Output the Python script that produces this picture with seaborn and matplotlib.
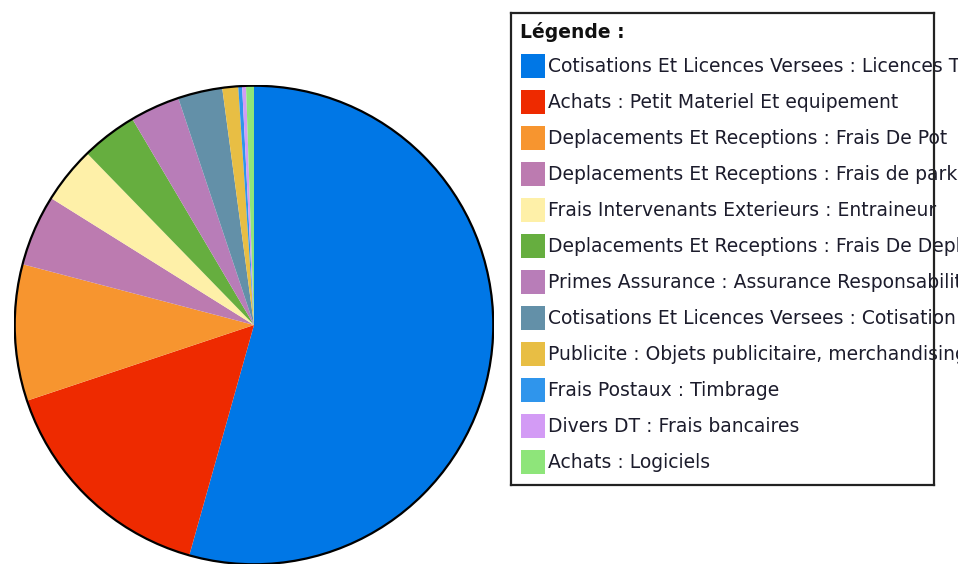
import numpy as np
import matplotlib
matplotlib.use('Agg')
import matplotlib.pyplot as plt
import seaborn as sns
from matplotlib.patches import Rectangle, Circle

# Expense categories (legend order = clockwise slice order from the top)
categories = [
    'Cotisations Et Licences Versees : Licences Tennis',
    'Achats : Petit Materiel Et equipement',
    'Deplacements Et Receptions : Frais De Pot',
    'Deplacements Et Receptions : Frais de parking',
    'Frais Intervenants Exterieurs : Entraineur',
    'Deplacements Et Receptions : Frais De Deplacement',
    'Primes Assurance : Assurance Responsabilite Civile',
    'Cotisations Et Licences Versees : Cotisation Ligue',
    'Publicite : Objets publicitaire, merchandising',
    'Frais Postaux : Timbrage',
    'Divers DT : Frais bancaires',
    'Achats : Logiciels',
]
# share of total (%)
shares = [54.3, 15.5, 9.2, 4.8, 3.83, 3.78, 3.36, 3.0, 1.07, 0.26, 0.26, 0.53]
colors = ['#0077E6', '#EE2A00', '#F7952F', '#BC7BB0', '#FEF0A8', '#66AE3F',
          '#B87DB8', '#6390A8', '#E8BE44', '#2F95EC', '#D39BF5', '#8EE57A']

sns.set_theme(style='white')
plt.rcParams['font.family'] = ['DejaVu Sans']

fig = plt.figure(figsize=(9.58, 5.64), dpi=100)

# pie
ax = fig.add_axes([14/958, -1/564, 480/958, 480/564])
ax.pie(shares, colors=colors, startangle=90, counterclock=False,
       wedgeprops=dict(linewidth=0))
ax.add_patch(Circle((0, 0), 1, fill=False, edgecolor='black', linewidth=1.6))
ax.set_xlim(-1.003, 1.003)
ax.set_ylim(-1.003, 1.003)
ax.set_aspect('equal')
ax.axis('off')

# legend box (long labels run over the frame and off the image, as in the original)
lg = fig.add_axes([511/958, (564-485)/564, 423/958, 472/564])
lg.set_xlim(0, 423)
lg.set_ylim(472, 0)
lg.set_xticks([])
lg.set_yticks([])
for s in lg.spines.values():
    s.set_color('#222222')
    s.set_linewidth(1.6)
    s.set_zorder(5)
lg.text(9, 19, 'Légende :', fontsize=13.5, fontweight='bold', va='center',
        ha='left', color='#111111')
for i, (lab, col) in enumerate(zip(categories, colors)):
    yc = 53 + 36 * i
    lg.add_patch(Rectangle((10, yc - 12), 24, 24, facecolor=col,
                           edgecolor='none', clip_on=False))
    lg.text(37, yc, lab, fontsize=13.5, va='center', ha='left',
            color='#1c1c2c', clip_on=False)

fig.savefig('out.png', dpi=100)
